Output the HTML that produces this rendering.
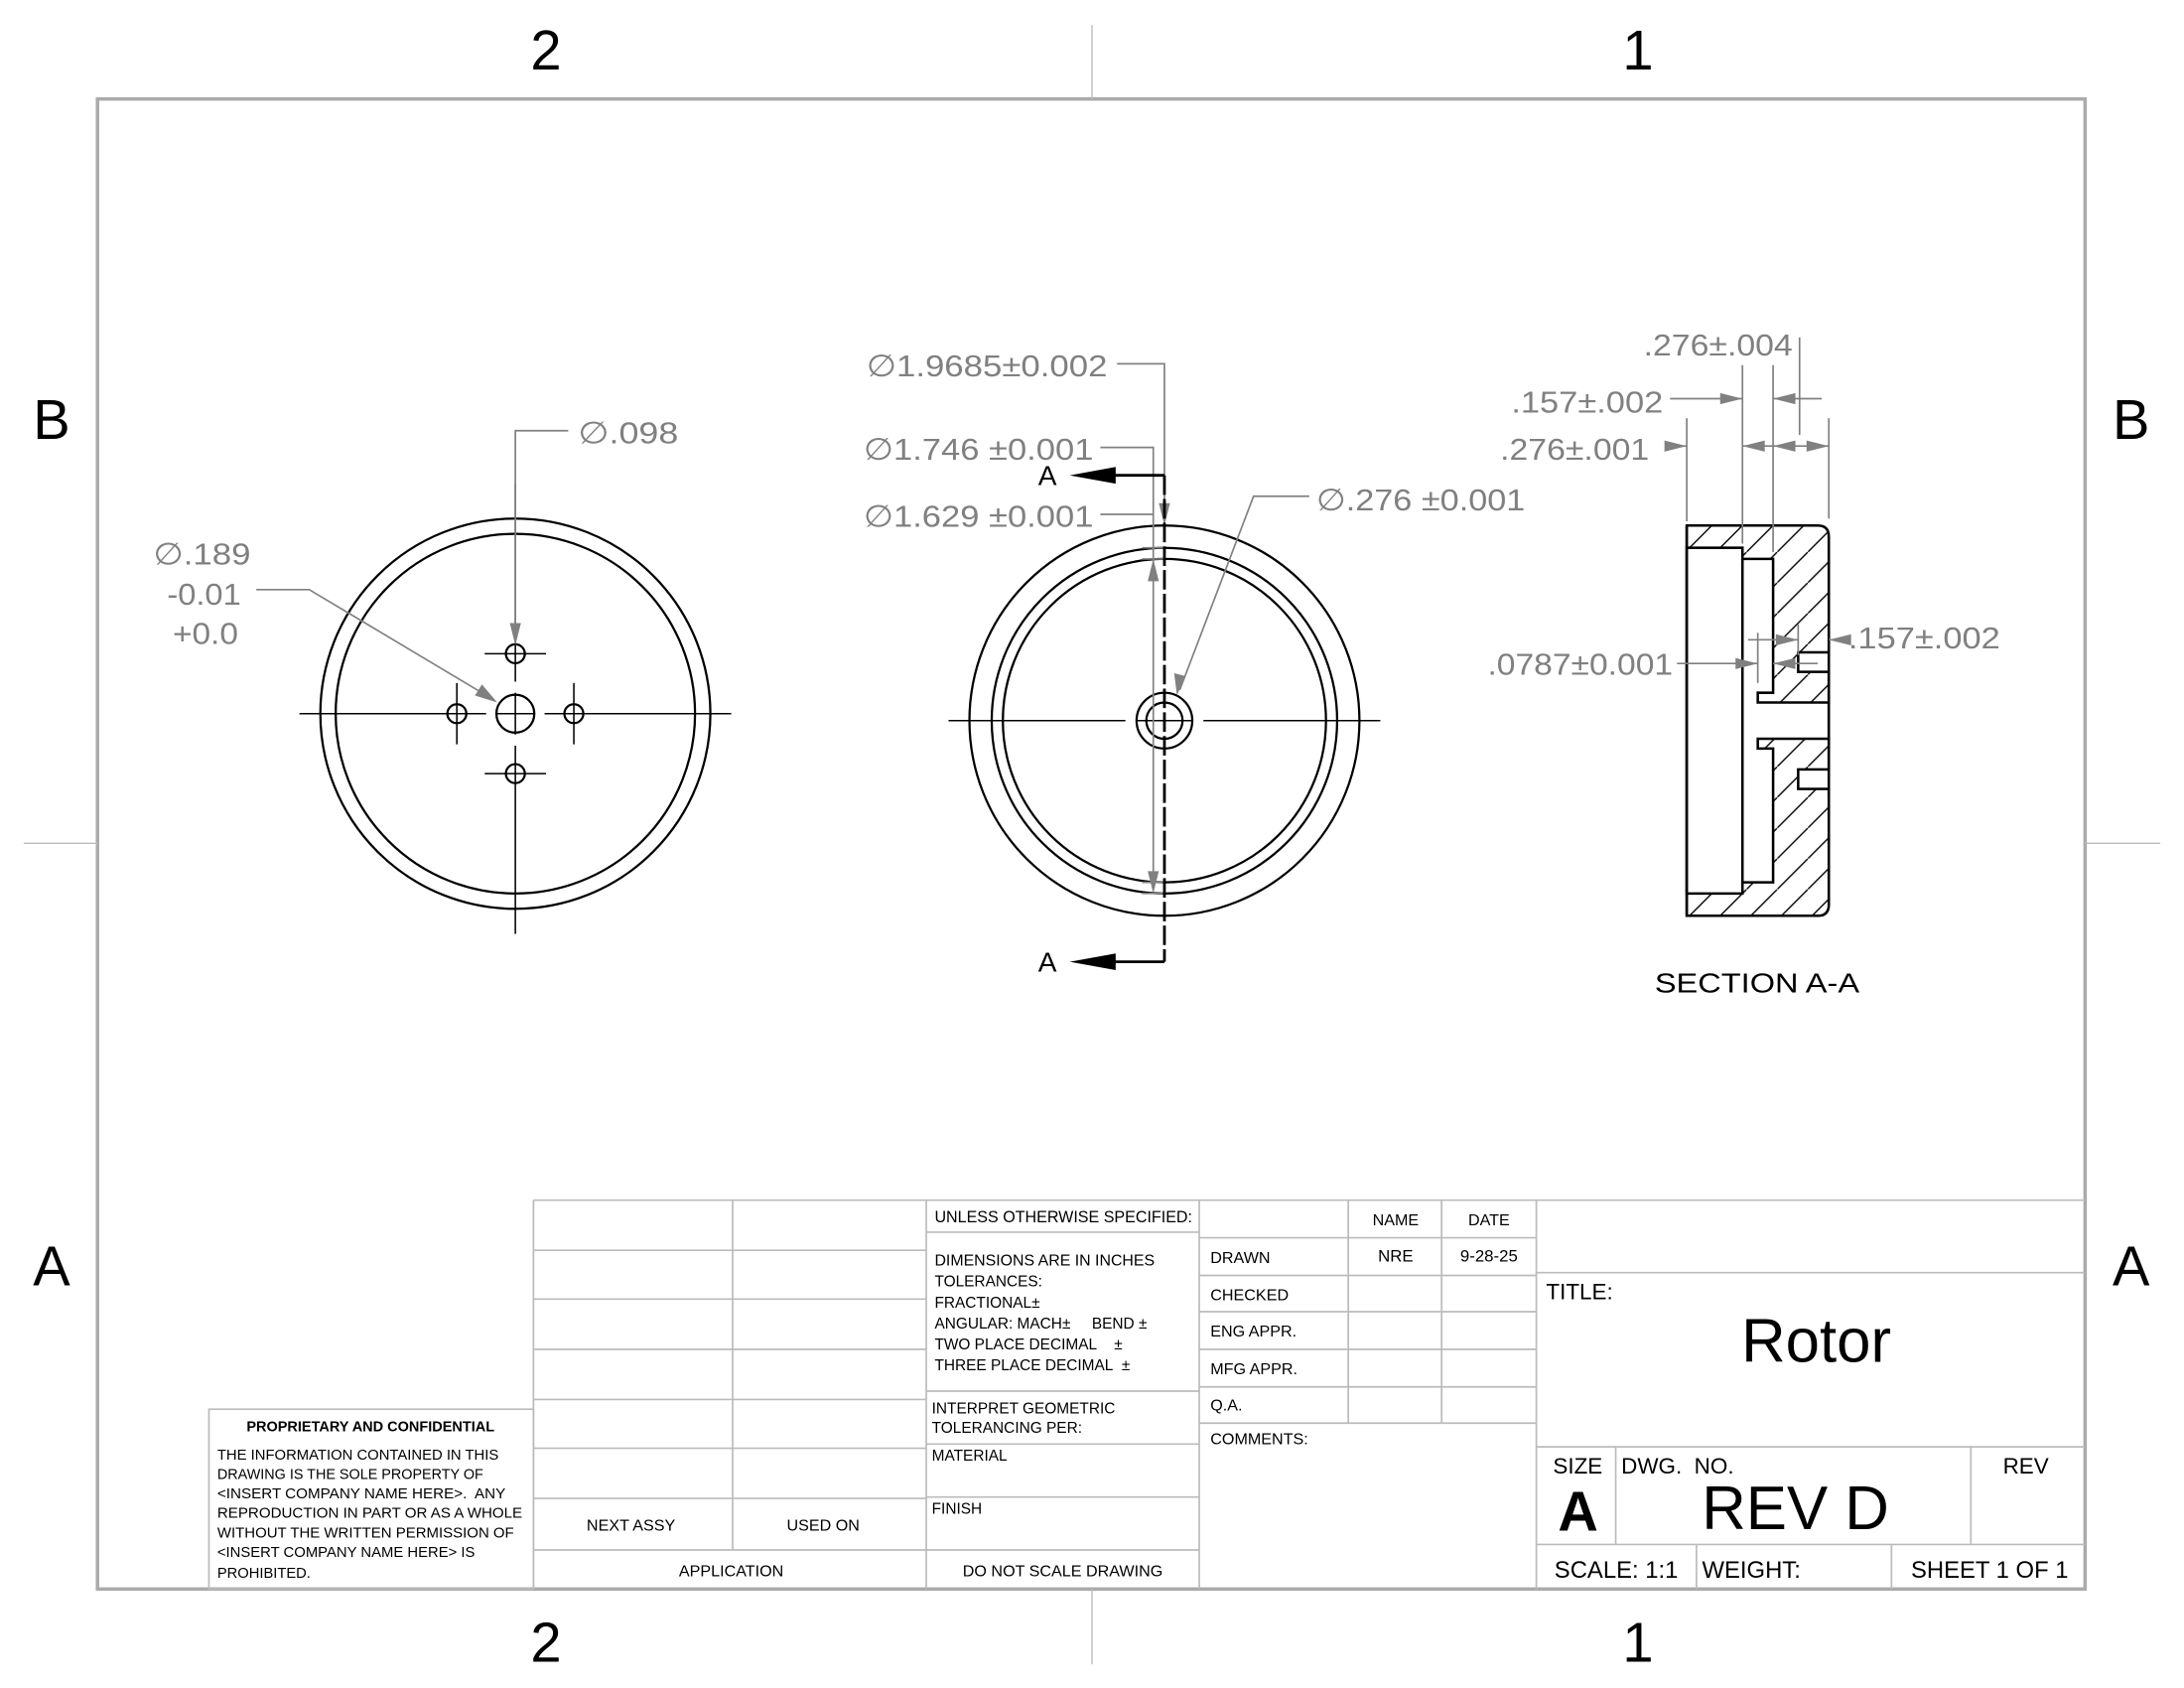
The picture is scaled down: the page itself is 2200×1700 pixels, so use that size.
<!DOCTYPE html>
<html><head><meta charset="utf-8"><style>
html,body{margin:0;padding:0;background:#fff;}
svg{display:block;}
text{font-family:"Liberation Sans",sans-serif;}
.d{fill:#808080;font-size:22px;}
.t{fill:#000;font-size:11.5px;}
</style></head><body>
<svg width="2200" height="1700" viewBox="0 0 1568 1211" preserveAspectRatio="none" xmlns="http://www.w3.org/2000/svg">
<defs>
<pattern id="h" patternUnits="userSpaceOnUse" width="22" height="22">
<line x1="-2" y1="24" x2="24" y2="-2" stroke="#000" stroke-width="1"/>
</pattern>
</defs>
<rect width="1568" height="1211" fill="#fff"/>
<rect x="70" y="71" width="1427" height="1069" fill="none" stroke="#aaa" stroke-width="2.5"/>
<g stroke="#bbb" stroke-width="1">
<line x1="784" y1="18" x2="784" y2="71"/><line x1="784" y1="1140" x2="784" y2="1194"/>
<line x1="17" y1="605" x2="70" y2="605"/><line x1="1497" y1="605" x2="1551" y2="605"/>
</g>
<g font-size="40" fill="#000" text-anchor="middle">
<text x="392" y="50">2</text><text x="1176" y="50">1</text>
<text x="392" y="1192">2</text><text x="1176" y="1192">1</text>
<text x="37" y="315">B</text><text x="1530" y="315">B</text>
<text x="37" y="922">A</text><text x="1530" y="922">A</text>
</g>

<g fill="none" stroke="#000" stroke-width="1.6">
<circle cx="370" cy="512" r="140"/><circle cx="370" cy="512" r="129"/>
<circle cx="370" cy="512" r="13.6"/>
<circle cx="370" cy="469" r="6.8"/><circle cx="370" cy="555" r="6.8"/>
<circle cx="328" cy="512" r="6.8"/><circle cx="412" cy="512" r="6.8"/>
</g>
<g stroke="#000" stroke-width="1.1">
<line x1="215" y1="512" x2="349" y2="512"/><line x1="356" y1="512" x2="384" y2="512"/><line x1="391" y1="512" x2="525" y2="512"/>
<line x1="370" y1="347" x2="370" y2="489"/><line x1="370" y1="497" x2="370" y2="527"/><line x1="370" y1="535" x2="370" y2="670"/>
<line x1="348" y1="469" x2="392" y2="469"/><line x1="348" y1="555" x2="392" y2="555"/>
<line x1="328" y1="490" x2="328" y2="534"/><line x1="412" y1="490" x2="412" y2="534"/>
</g>
<g stroke="#808080" stroke-width="1.2" fill="none">
<polyline points="408,309 370,309 370,455"/>
<polyline points="184,423 222,423 346,497"/>
</g>
<polygon points="370,463 366,447 374,447" fill="#808080"/>
<polygon points="357,504 341,499 346,491" fill="#808080"/>
<text class="d" x="415" y="318" textLength="72" lengthAdjust="spacingAndGlyphs">∅.098</text>
<text class="d" x="110" y="405" textLength="70" lengthAdjust="spacingAndGlyphs">∅.189</text>
<text class="d" x="120" y="434" textLength="53" lengthAdjust="spacingAndGlyphs">-0.01</text>
<text class="d" x="124" y="462" textLength="47" lengthAdjust="spacingAndGlyphs">+0.0</text>

<g fill="none" stroke="#000" stroke-width="1.6">
<circle cx="836" cy="517" r="140"/><circle cx="836" cy="517" r="124"/><circle cx="836" cy="517" r="116"/>
<circle cx="836" cy="517" r="20"/><circle cx="836" cy="517" r="13"/>
</g>
<g stroke="#000" stroke-width="1.1">
<line x1="681" y1="517" x2="808" y2="517"/><line x1="816" y1="517" x2="856" y2="517"/><line x1="864" y1="517" x2="991" y2="517"/>
</g>
<g stroke="#808080" stroke-width="1.2" fill="none">
<polyline points="802,261 836,261 836,370"/>
<polyline points="790,321 828,321 828,633"/>
<line x1="790" y1="369" x2="828" y2="369"/>
<line x1="820" y1="393" x2="836" y2="393"/><line x1="820" y1="401" x2="836" y2="401"/>
<line x1="820" y1="633" x2="836" y2="633"/><line x1="820" y1="641" x2="836" y2="641"/>
<polyline points="940,356 900,356 847,495"/>
</g>
<polygon points="836,377 832,361 840,361" fill="#808080"/>
<polygon points="828,401 824,417 832,417" fill="#808080"/>
<polygon points="828,641 824,625 832,625" fill="#808080"/>
<polygon points="845,499 843,483 851,485" fill="#808080"/>
<text class="d" x="622" y="270" textLength="173" lengthAdjust="spacingAndGlyphs">∅1.9685±0.002</text>
<text class="d" x="620" y="330" textLength="165" lengthAdjust="spacingAndGlyphs">∅1.746 ±0.001</text>
<text class="d" x="620" y="378" textLength="165" lengthAdjust="spacingAndGlyphs">∅1.629 ±0.001</text>
<text class="d" x="945" y="366" textLength="150" lengthAdjust="spacingAndGlyphs">∅.276 ±0.001</text>
<line x1="836" y1="341" x2="836" y2="690" stroke="#000" stroke-width="2" stroke-dasharray="14,3"/>
<polyline points="800,341 836,341" stroke="#000" stroke-width="2" fill="none"/>
<polyline points="800,690 836,690" stroke="#000" stroke-width="2" fill="none"/>
<polygon points="768,341 801,335 801,347" fill="#000"/>
<polygon points="768,690 801,684 801,696" fill="#000"/>
<text x="752" y="348" font-size="20" text-anchor="middle">A</text>
<text x="752" y="697" font-size="20" text-anchor="middle">A</text>

<path d="M1211,377 L1305,377 Q1313,377 1313,385 L1313,649 Q1313,657 1305,657 L1211,657 Z" fill="url(#h)" stroke="#000" stroke-width="1.8"/>
<path d="M1211,393 L1251,393 L1251,401 L1273,401 L1273,497 L1262,497 L1262,504 L1313,504 L1313,530 L1262,530 L1262,537 L1273,537 L1273,633 L1251,633 L1251,641 L1211,641 Z" fill="#fff" stroke="#000" stroke-width="1.8"/>
<line x1="1211" y1="377" x2="1211" y2="657" stroke="#000" stroke-width="1.8"/>
<line x1="1251" y1="393" x2="1251" y2="641" stroke="#000" stroke-width="1.8"/>
<line x1="1313" y1="385" x2="1313" y2="649" stroke="#000" stroke-width="1.8"/>
<rect x="1291" y="468" width="22" height="14" fill="#fff" stroke="#000" stroke-width="1.8"/>
<rect x="1291" y="552" width="22" height="14" fill="#fff" stroke="#000" stroke-width="1.8"/>
<line x1="1313" y1="465" x2="1313" y2="570" stroke="#000" stroke-width="1.8"/>
<g stroke="#808080" stroke-width="1.2" fill="none">
<line x1="1251" y1="262" x2="1251" y2="390"/>
<line x1="1273" y1="262" x2="1273" y2="396"/>
<line x1="1292" y1="242" x2="1292" y2="312"/>
<line x1="1313" y1="300" x2="1313" y2="372"/>
<line x1="1211" y1="300" x2="1211" y2="374"/>
<line x1="1199" y1="286" x2="1251" y2="286"/>
<line x1="1273" y1="286" x2="1308" y2="286"/>
<line x1="1251" y1="320" x2="1313" y2="320"/>
<line x1="1196" y1="320" x2="1211" y2="320"/>
<line x1="1262" y1="454" x2="1262" y2="490"/>
<line x1="1291" y1="448" x2="1291" y2="470"/>
<line x1="1204" y1="476" x2="1262" y2="476"/>
<line x1="1273" y1="476" x2="1305" y2="476"/>
<line x1="1255" y1="459" x2="1291" y2="459"/>
<line x1="1313" y1="459" x2="1326" y2="459"/>
</g>
<g fill="#808080">
<polygon points="1251,286 1235,282 1235,290"/>
<polygon points="1273,286 1289,282 1289,290"/>
<polygon points="1211,320 1195,316 1195,324"/>
<polygon points="1251,320 1267,316 1267,324"/>
<polygon points="1273,320 1289,316 1289,324"/>
<polygon points="1313,320 1297,316 1297,324"/>
<polygon points="1262,476 1246,472 1246,480"/>
<polygon points="1273,476 1289,472 1289,480"/>
<polygon points="1291,459 1275,455 1275,463"/>
<polygon points="1313,459 1329,455 1329,463"/>
</g>
<text class="d" x="1180" y="255" textLength="107" lengthAdjust="spacingAndGlyphs">.276±.004</text>
<text class="d" x="1085" y="296" textLength="109" lengthAdjust="spacingAndGlyphs">.157±.002</text>
<text class="d" x="1077" y="330" textLength="107" lengthAdjust="spacingAndGlyphs">.276±.001</text>
<text class="d" x="1068" y="484" textLength="133" lengthAdjust="spacingAndGlyphs">.0787±0.001</text>
<text class="d" x="1327" y="465" textLength="109" lengthAdjust="spacingAndGlyphs">.157±.002</text>
<text x="1188" y="712" font-size="20" textLength="147" lengthAdjust="spacingAndGlyphs">SECTION A-A</text>

<g stroke="#bbb" stroke-width="1.2" fill="none">
<rect x="150" y="1011" width="233" height="129"/>
<line x1="383" y1="861" x2="1497" y2="861"/>
<line x1="383" y1="861" x2="383" y2="1140"/>
<line x1="526" y1="861" x2="526" y2="1112"/>
<line x1="665" y1="861" x2="665" y2="1140"/>
<line x1="861" y1="861" x2="861" y2="1140"/>
<line x1="968" y1="861" x2="968" y2="1021"/>
<line x1="1035" y1="861" x2="1035" y2="1021"/>
<line x1="1103" y1="861" x2="1103" y2="1140"/>
<line x1="383" y1="897" x2="665" y2="897"/><line x1="383" y1="932" x2="665" y2="932"/>
<line x1="383" y1="968" x2="665" y2="968"/><line x1="383" y1="1004" x2="665" y2="1004"/>
<line x1="383" y1="1039" x2="665" y2="1039"/><line x1="383" y1="1075" x2="665" y2="1075"/>
<line x1="383" y1="1112" x2="861" y2="1112"/>
<line x1="665" y1="884" x2="861" y2="884"/><line x1="665" y1="998" x2="861" y2="998"/>
<line x1="665" y1="1036" x2="861" y2="1036"/><line x1="665" y1="1074" x2="861" y2="1074"/>
<line x1="861" y1="888" x2="1103" y2="888"/><line x1="861" y1="915" x2="1103" y2="915"/>
<line x1="861" y1="941" x2="1103" y2="941"/><line x1="861" y1="968" x2="1103" y2="968"/>
<line x1="861" y1="995" x2="1103" y2="995"/><line x1="861" y1="1021" x2="1103" y2="1021"/>
<line x1="1103" y1="913" x2="1497" y2="913"/>
<line x1="1103" y1="1038" x2="1497" y2="1038"/>
<line x1="1103" y1="1108" x2="1497" y2="1108"/>
<line x1="1160" y1="1038" x2="1160" y2="1108"/>
<line x1="1415" y1="1038" x2="1415" y2="1108"/>
<line x1="1218" y1="1108" x2="1218" y2="1140"/>
<line x1="1358" y1="1108" x2="1358" y2="1140"/>
</g>
<text x="266" y="1027" font-size="10.5" font-weight="bold" text-anchor="middle" textLength="178" lengthAdjust="spacingAndGlyphs">PROPRIETARY AND CONFIDENTIAL</text>
<g font-size="10.5">
<text x="156" y="1047" textLength="202" lengthAdjust="spacingAndGlyphs">THE INFORMATION CONTAINED IN THIS</text>
<text x="156" y="1061" textLength="191" lengthAdjust="spacingAndGlyphs">DRAWING IS THE SOLE PROPERTY OF</text>
<text x="156" y="1075" textLength="207" lengthAdjust="spacingAndGlyphs">&lt;INSERT COMPANY NAME HERE&gt;.&#160; ANY</text>
<text x="156" y="1089" textLength="219" lengthAdjust="spacingAndGlyphs">REPRODUCTION IN PART OR AS A WHOLE</text>
<text x="156" y="1103" textLength="213" lengthAdjust="spacingAndGlyphs">WITHOUT THE WRITTEN PERMISSION OF</text>
<text x="156" y="1117" textLength="185" lengthAdjust="spacingAndGlyphs">&lt;INSERT COMPANY NAME HERE&gt; IS</text>
<text x="156" y="1132">PROHIBITED.</text>
</g>
<g class="t">
<text x="453" y="1098" text-anchor="middle" font-size="11.5">NEXT ASSY</text>
<text x="591" y="1098" text-anchor="middle" font-size="11.5">USED ON</text>
<text x="525" y="1131" text-anchor="middle" font-size="11.5">APPLICATION</text>
<text x="671" y="877" font-size="12" textLength="185" lengthAdjust="spacingAndGlyphs">UNLESS OTHERWISE SPECIFIED:</text>
<text x="671" y="908" font-size="11" textLength="158" lengthAdjust="spacingAndGlyphs">DIMENSIONS ARE IN INCHES</text>
<text x="671" y="923" font-size="11">TOLERANCES:</text>
<text x="671" y="938" font-size="11">FRACTIONAL±</text>
<text x="671" y="953" font-size="11">ANGULAR: MACH±&#160;&#160;&#160;&#160;&#160;BEND ±</text>
<text x="671" y="968" font-size="11">TWO PLACE DECIMAL&#160;&#160;&#160;&#160;±</text>
<text x="671" y="983" font-size="11">THREE PLACE DECIMAL&#160;&#160;±</text>
<text x="669" y="1014" font-size="11">INTERPRET GEOMETRIC</text>
<text x="669" y="1028" font-size="11">TOLERANCING PER:</text>
<text x="669" y="1048" font-size="11">MATERIAL</text>
<text x="669" y="1086" font-size="11">FINISH</text>
<text x="763" y="1131" text-anchor="middle" font-size="11.5">DO NOT SCALE DRAWING</text>
<text x="1002" y="879" text-anchor="middle" font-size="11.5">NAME</text>
<text x="1069" y="879" text-anchor="middle" font-size="11.5">DATE</text>
<text x="869" y="906" font-size="11.5">DRAWN</text>
<text x="1002" y="905" text-anchor="middle" font-size="12">NRE</text>
<text x="1069" y="905" text-anchor="middle" font-size="12">9-28-25</text>
<text x="869" y="933" font-size="11.5">CHECKED</text>
<text x="869" y="959" font-size="11.5">ENG APPR.</text>
<text x="869" y="986" font-size="11.5">MFG APPR.</text>
<text x="869" y="1012" font-size="11.5">Q.A.</text>
<text x="869" y="1036" font-size="11.5">COMMENTS:</text>
</g>
<text x="1110" y="932" font-size="16">TITLE:</text>
<text x="1304" y="977" font-size="44" text-anchor="middle">Rotor</text>
<text x="1115" y="1057" font-size="16">SIZE</text>
<text x="1164" y="1057" font-size="16">DWG.&#160; NO.</text>
<text x="1438" y="1057" font-size="16">REV</text>
<text x="1133" y="1098" font-size="40" font-weight="bold" text-anchor="middle">A</text>
<text x="1289" y="1097" font-size="44" text-anchor="middle">REV D</text>
<text x="1116" y="1132" font-size="17">SCALE: 1:1</text>
<text x="1222" y="1132" font-size="17">WEIGHT:</text>
<text x="1372" y="1132" font-size="17">SHEET 1 OF 1</text>
</svg>
</body></html>
